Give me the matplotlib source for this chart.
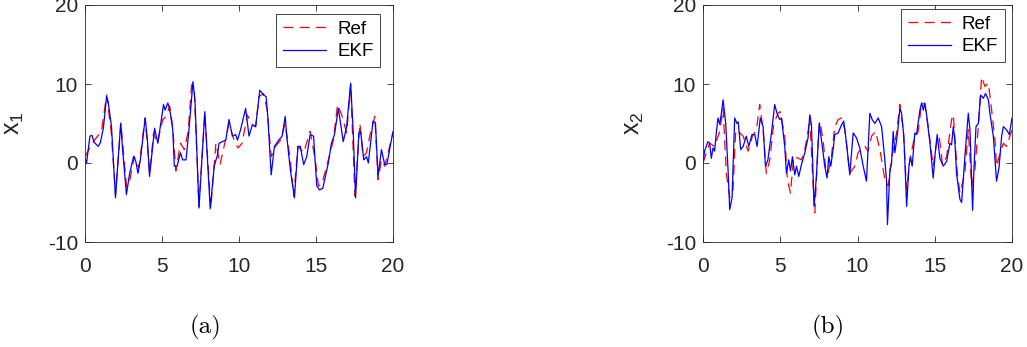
import numpy as np
import matplotlib
matplotlib.use('Agg')
import matplotlib.pyplot as plt

# ======================
# DATA (t, value)
# ======================
x1_ref = [(0, 0.8), (0.5, 2.6), (0.9, 3.6), (1.1, 4.4), (1.4, 8.6), (1.7, 4.0), (1.98, -4.0),
          (2.33, 5.0), (2.7, -3.0), (2.9, -2.3), (3.2, 0.8), (3.5, -0.6), (3.9, 5.7), (4.2, -1.3),
          (4.45, 3.8), (4.7, 2.5), (5.05, 5.5), (5.27, 5.9), (5.5, 7.2), (5.7, 4.5), (5.9, -1.0),
          (6.2, 2.5), (6.45, 1.7), (6.7, 4.0), (6.92, 9.9), (7.1, 9.0), (7.4, -5.5), (7.78, 6.3),
          (8.17, -5.7), (8.5, 2.5), (8.77, -0.2), (9.03, 2.1), (9.35, 5.0), (9.68, 2.9), (9.94, 1.9),
          (10.2, 2.5), (10.54, 6.1), (10.8, 5.0), (11.08, 4.6), (11.3, 8.4), (11.6, 8.8), (11.83, 6.7),
          (12.09, 0.8), (12.37, 2.1), (12.7, 2.9), (13.0, 5.0), (13.33, 0.4), (13.55, -4.2),
          (13.83, 2.1), (14.2, 1.3), (14.62, 4.0), (14.95, 0.4), (15.16, -2.9), (15.38, -2.7),
          (15.8, 0.4), (16.13, 2.9), (16.4, 7.4), (16.67, 6.1), (16.99, 3.8), (17.25, 9.9),
          (17.53, -4.2), (17.85, 5.0), (18.06, 0.8), (18.28, 1.3), (18.49, 3.4), (18.82, 5.9),
          (19.03, -2.1), (19.25, 0.4), (19.46, -0.4), (20, 3.8)]

x1_ekf = [(0, 0.5), (0.1, 0), (0.32, 3.4), (0.45, 3.5), (0.6, 2.6), (0.86, 2.1), (1.0, 2.6),
          (1.2, 4.5), (1.4, 8.4), (1.5, 7.8), (1.72, 4.6), (1.98, -4.4), (2.1, -1.0), (2.32, 5.05),
          (2.45, 1.5), (2.69, -4.0), (2.9, -1.3), (3.16, 0.85), (3.3, 0.2), (3.44, -1.3), (3.6, 0.5),
          (3.91, 5.7), (4.05, 3.0), (4.19, -1.7), (4.52, 4.4), (4.73, 2.5), (5.1, 7.4), (5.2, 6.7),
          (5.38, 7.6), (5.5, 6.8), (5.7, 4.2), (5.8, -0.4), (5.98, -0.4), (6.2, 1.3), (6.34, 0.4),
          (6.56, 0.4), (6.77, 4.6), (7.01, 10.3), (7.14, 8.0), (7.4, -5.7), (7.78, 6.5), (8.13, -5.8),
          (8.39, -0.4), (8.6, 1.0), (8.7, 2.5), (8.92, 2.7), (9.14, 2.9), (9.35, 5.5), (9.57, 3.4),
          (9.78, 3.6), (9.9, 2.9), (10.1, 4.2), (10.43, 6.9), (10.65, 3.4), (10.86, 4.8), (11.08, 4.6),
          (11.35, 9.2), (11.6, 8.6), (11.76, 8.4), (11.87, 5.9), (12.09, -1.5), (12.3, 2.1),
          (12.58, 2.9), (12.8, 3.4), (13.0, 5.9), (13.1, 3.4), (13.33, -0.8), (13.6, -4.4),
          (13.83, 2.1), (13.98, 2.1), (14.2, -0.2), (14.4, 0.8), (14.62, 3.6), (14.84, 3.4),
          (15.05, -2.9), (15.23, -3.4), (15.44, -3.2), (15.8, 0), (16.0, 2.5), (16.2, 3.6),
          (16.45, 6.9), (16.55, 5.6), (16.77, 2.7), (16.99, 4.6), (17.25, 10.1), (17.42, 3.8),
          (17.57, -4.4), (17.78, 3.8), (17.9, 4.0), (18.1, 0.4), (18.28, 0.8), (18.4, 0),
          (18.7, 5.3), (18.86, 5.1), (19.03, -1.7), (19.25, 1.7), (19.46, -0.2), (19.6, -0.2), (20, 4.0)]

x2_ref = [(0, 0), (0.43, 2.5), (0.75, 2.1), (1.08, 4.0), (1.3, 6.9), (1.51, -1.3), (1.73, -4.4),
          (1.94, -3.4), (2.12, 4.2), (2.38, 3.8), (2.6, 3.4), (2.92, 1.5), (3.2, 3.4), (3.46, 4.2),
          (3.67, 7.4), (3.89, 4.2), (4.1, -1.3), (4.32, 0.4), (4.58, 5.0), (4.86, 6.3), (5.0, 6.5),
          (5.29, 3.4), (5.46, -2.1), (5.66, -3.8), (5.87, 0.8), (6.16, 0.6), (6.37, 0.4), (6.59, 1.7),
          (6.8, 4.0), (6.91, 5.9), (7.13, -2.9), (7.24, -6.3), (7.45, 2.5), (7.56, 5.3), (7.78, 2.9),
          (7.95, -1.0), (8.1, -1.3), (8.31, 0.8), (8.53, 4.6), (8.75, 5.5), (8.96, 5.7), (9.18, 4.2),
          (9.5, -1.3), (9.83, -0.4), (10.04, 1.3), (10.26, 1.9), (10.48, 2.1), (10.69, 1.5),
          (10.91, 3.4), (11.17, 4.0), (11.45, 1.7), (11.77, -2.1), (11.99, -2.9), (12.2, 0.4),
          (12.53, 3.8), (12.74, 7.4), (12.96, 4.2), (13.18, -3.4), (13.39, 0.4), (13.65, 2.9),
          (13.93, 4.0), (14.15, 7.6), (14.36, 7.4), (14.58, 4.6), (14.9, -0.4), (15.12, 2.5),
          (15.29, 3.4), (15.5, -0.2), (15.77, 0.8), (16.09, 5.5), (16.2, 6.1), (16.46, -1.3),
          (16.63, -3.8), (16.95, -1.3), (17.17, 4.2), (17.39, -2.9), (17.6, -0.8), (17.82, 4.6),
          (18.03, 10.9), (18.25, 9.7), (18.47, 10.1), (18.68, 6.7), (18.9, 2.9), (19.0, -0.4),
          (19.22, 1.1), (19.44, 2.5), (19.65, 2.1), (20, 4.2)]

x2_ekf = [(0, 0), (0.1, 1.5), (0.32, 2.7), (0.43, 2.5), (0.54, 0.6), (0.65, 1.9), (0.75, 1.5),
          (0.86, 3.8), (0.97, 5.7), (1.08, 4.9), (1.19, 6.3), (1.3, 8.0), (1.47, 5.0), (1.62, -0.8),
          (1.73, -5.9), (1.88, -4.4), (2.05, 5.7), (2.2, 5.0), (2.28, 5.2), (2.44, 1.7), (2.6, 2.1),
          (2.8, 3.4), (2.96, 2.1), (3.17, 3.6), (3.35, 3.6), (3.5, 2.1), (3.71, 5.7), (3.89, 4.6),
          (4.04, -0.4), (4.2, 0.4), (4.43, 3.8), (4.64, 7.4), (4.79, 6.3), (4.97, 5.5), (5.08, 5.7),
          (5.29, 2.1), (5.4, -1.3), (5.55, 0.4), (5.66, -1.0), (5.79, 0.8), (5.94, -1.5), (6.05, -0.4),
          (6.2, -1.7), (6.37, -0.2), (6.59, 1.3), (6.8, 3.2), (6.91, 6.1), (7.02, 4.8), (7.19, -5.5),
          (7.34, -1.7), (7.52, 5.0), (7.67, 2.9), (7.88, -0.4), (8.03, -1.9), (8.14, 0.8),
          (8.27, -0.4), (8.42, 1.7), (8.53, 3.6), (8.75, 3.8), (8.96, 4.8), (9.11, 5.3), (9.29, 2.5),
          (9.5, -1.5), (9.72, 3.8), (9.93, 3.2), (10.15, 1.9), (10.37, -0.4), (10.58, -2.3),
          (10.8, 6.3), (10.95, 5.5), (11.12, 5.0), (11.34, 5.7), (11.56, 4.6), (11.77, 0.4),
          (11.88, -2.3), (11.94, -7.8), (12.1, -0.8), (12.2, -0.2), (12.31, 4.0), (12.42, 1.3),
          (12.59, 3.8), (12.74, 6.9), (12.85, 6.3), (13.0, 3.4), (13.18, -5.5), (13.33, -0.4),
          (13.43, 0.8), (13.54, -0.4), (13.71, 3.8), (13.82, 3.6), (14.04, 6.7), (14.15, 7.6),
          (14.26, 6.7), (14.36, 7.6), (14.47, 6.1), (14.69, 2.5), (14.9, -1.9), (15.05, 1.7),
          (15.16, 3.6), (15.33, 0.6), (15.55, -0.4), (15.77, 0.2), (15.98, 2.5), (16.09, 2.3),
          (16.2, 4.6), (16.3, 2.9), (16.41, -1.3), (16.63, -4.6), (16.74, -5.0), (16.95, 0.8),
          (17.17, 6.3), (17.28, 4.2), (17.45, -6.0), (17.54, -0.6), (17.67, 4.6), (17.82, 5.0),
          (17.97, 8.6), (18.14, 8.2), (18.29, 8.8), (18.47, 8.0), (18.57, 6.3), (18.79, 3.4),
          (19.0, -2.3), (19.16, -0.6), (19.33, 3.4), (19.44, 4.6), (19.65, 4.2), (19.83, 3.6),
          (20, 5.7)]

x_ticks = [0, 5, 10, 15, 20]
y_ticks = [-10, 0, 10, 20]
y_labels = [r'$\mathrm{x}_1$', r'$\mathrm{x}_2$']
captions = ['(a)', '(b)']

# ======================
# STYLE
# ======================
plt.rcParams['font.family'] = ['Liberation Sans', 'DejaVu Sans']
plt.rcParams['mathtext.fontset'] = 'custom'
plt.rcParams['mathtext.rm'] = 'Liberation Sans'
plt.rcParams['mathtext.it'] = 'Liberation Sans:italic'
plt.rcParams['axes.unicode_minus'] = False
axcol = '#262626'

fig = plt.figure(figsize=(10.27, 3.47), dpi=100)
ax_rects = [[85 / 1027, 105 / 347, 308 / 1027, 237 / 347],
            [703 / 1027, 105 / 347, 309 / 1027, 237 / 347]]
legend_anchor = [(0.958, 0.962), (0.977, 0.983)]
label_x = [-0.19, -0.185]
caption_x = [205 / 1027, 828 / 1027]

for i, (ref, ekf) in enumerate([(x1_ref, x1_ekf), (x2_ref, x2_ekf)]):
    ax = fig.add_axes(ax_rects[i])
    ref = np.array(ref)
    ekf = np.array(ekf)
    ax.plot(ref[:, 0], ref[:, 1], color='red', lw=0.9, dashes=(8, 5), label='Ref')
    ax.plot(ekf[:, 0], ekf[:, 1], color='blue', lw=0.9, label='EKF')
    ax.set_xlim(0, 20)
    ax.set_ylim(-10, 20)
    ax.set_xticks(x_ticks)
    ax.set_yticks(y_ticks)
    ax.tick_params(direction='in', length=4, width=0.6, top=True, right=True,
                   labelsize=15, colors=axcol)
    ax.tick_params(axis='x', pad=11)
    ax.tick_params(axis='y', pad=5)
    for s in ax.spines.values():
        s.set_color(axcol)
        s.set_linewidth(0.6)
    ax.set_ylabel(y_labels[i], fontsize=18, color=axcol)
    ax.yaxis.set_label_coords(label_x[i], 0.5)
    leg = ax.legend(loc='upper right', bbox_to_anchor=legend_anchor[i], borderaxespad=0,
                    fancybox=False, framealpha=1, edgecolor=axcol, fontsize=13.5,
                    handlelength=2.3, handletextpad=0.6, borderpad=0.35, labelspacing=0.3)
    leg.get_frame().set_linewidth(0.6)
    fig.text(caption_x[i], 0.056, captions[i], family='cmr10', fontsize=18,
             ha='center', va='center')

plt.savefig('out.png', dpi=100)
